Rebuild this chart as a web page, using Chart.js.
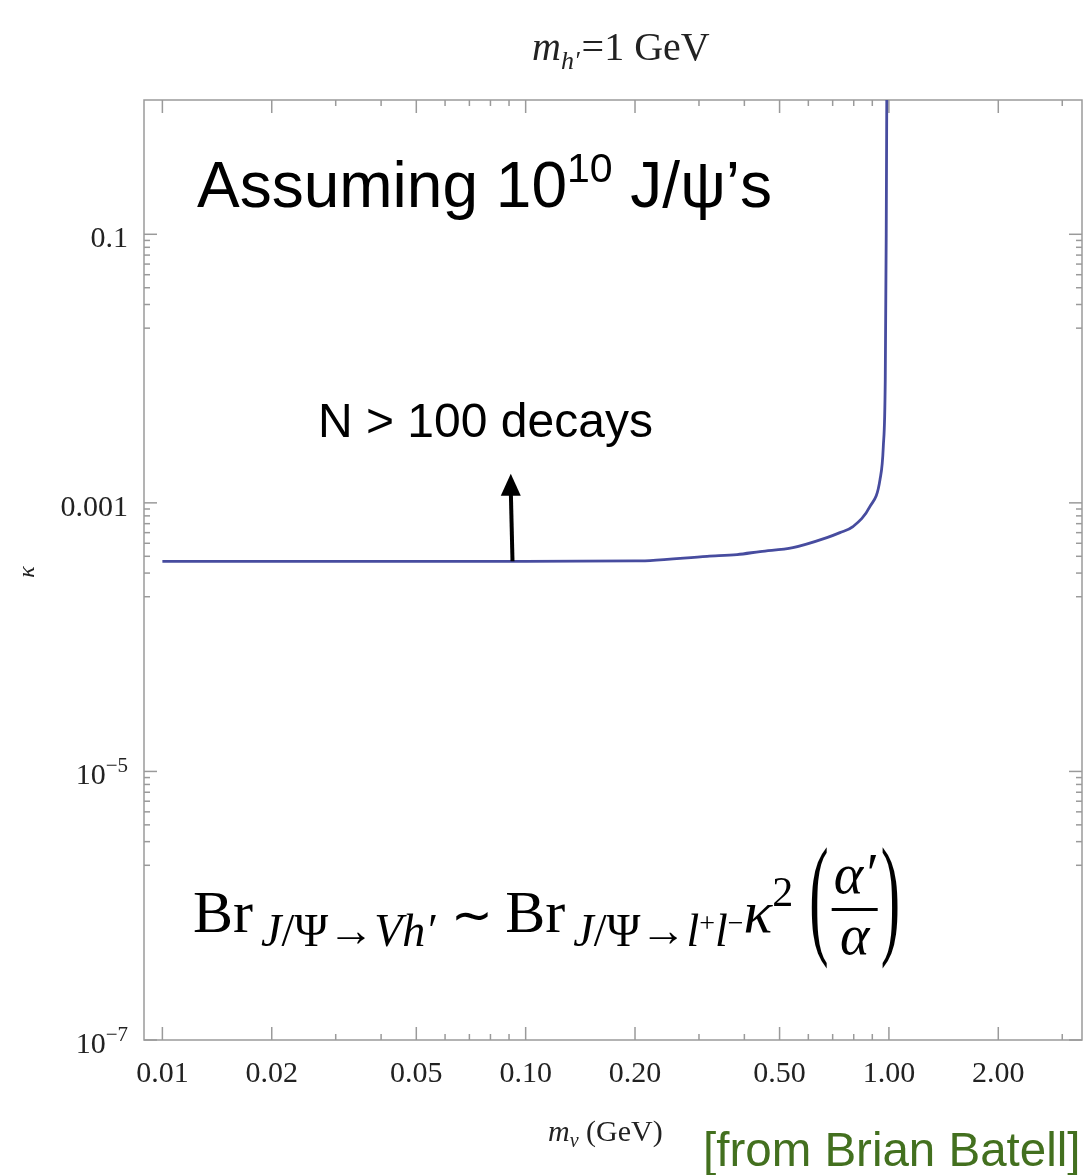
<!DOCTYPE html>
<html>
<head>
<meta charset="utf-8">
<script src="https://cdn.jsdelivr.net/npm/chart.js@4"></script>
<style>
  html, body { margin: 0; background: #fff; }
  canvas { display: block; }
</style>
</head>
<body>
<canvas id="chart" width="1085" height="1175"></canvas>
<script>
const c = document.getElementById('chart').getContext('2d');

// m_V (GeV) and kappa
const massV = [0.01, 0.02, 0.05, 0.1, 0.2, 0.22, 0.316, 0.382, 0.442, 0.544, 0.675, 0.733, 0.796, 0.887, 0.945, 0.965, 0.977, 0.983, 0.987];
const kappa = [3.67e-4, 3.67e-4, 3.67e-4, 3.67e-4, 3.7e-4, 3.72e-4, 4.0e-4, 4.12e-4, 4.34e-4, 4.64e-4, 5.51e-4, 6.0e-4, 6.65e-4, 9.4e-4, 1.49e-3, 2.63e-3, 8.3e-3, 0.1, 1.5];

const xTicks = [0.01, 0.02, 0.05, 0.1, 0.2, 0.5, 1, 2];
const xTickLabels = ['0.01', '0.02', '0.05', '0.10', '0.20', '0.50', '1.00', '2.00'];
const xMinor = [0.03, 0.04, 0.06, 0.07, 0.08, 0.09, 0.3, 0.4, 0.6, 0.7, 0.8, 0.9, 3];

const yTicks = [1e-7, 1e-5, 1e-3, 1e-1];
const yTickBase = ['10', '10', '0.001', '0.1'];
const yTickExp = ['\u22127', '\u22125', '', ''];

// arrow "N > 100 decays"
const arrowX = [0.092, 0.091];
const arrowY = [3.67e-4, 1.65e-3];

const yMin = 1e-7, yMax = 1;

const serif = '"Liberation Serif", "Times New Roman", serif';
const sans = '"Liberation Sans", Arial, sans-serif';

function runs(ctx, x, y, parts) {
  parts.forEach(p => {
    ctx.font = (p.style || '') + ' ' + p.size + 'px ' + (p.family || serif);
    ctx.fillText(p.t, x + (p.dx || 0), y + (p.dy || 0));
    x += ctx.measureText(p.t).width + (p.dx || 0);
  });
  return x;
}

const frame = {
  id: 'frame',
  beforeDatasetsDraw(chart) {
    const {ctx, chartArea: a, scales: {x, y}} = chart;
    ctx.save();
    ctx.strokeStyle = '#9a9a9a';
    ctx.lineWidth = 1.5;
    ctx.strokeRect(a.left, a.top, a.right - a.left, a.bottom - a.top);
    const seg = (x1, y1, x2, y2) => { ctx.beginPath(); ctx.moveTo(x1, y1); ctx.lineTo(x2, y2); ctx.stroke(); };
    xTicks.forEach(v => { const p = x.getPixelForValue(v); seg(p, a.bottom, p, a.bottom - 13); seg(p, a.top, p, a.top + 13); });
    xMinor.forEach(v => { const p = x.getPixelForValue(v); seg(p, a.bottom, p, a.bottom - 6); seg(p, a.top, p, a.top + 6); });
    yTicks.forEach(v => {
      const p = y.getPixelForValue(v);
      seg(a.left, p, a.left + 13, p); seg(a.right, p, a.right - 13, p);
      for (let k = 2; k <= 9; k++) {
        const mv = v * k / 10;
        if (mv <= yMin || mv >= yMax) continue;
        const q = y.getPixelForValue(mv);
        seg(a.left, q, a.left + 6, q); seg(a.right, q, a.right - 6, q);
      }
    });
    ctx.restore();
  },
  afterDraw(chart) {
    const {ctx, chartArea: a, scales: {x, y}} = chart;
    ctx.save();
    ctx.fillStyle = '#222';
    ctx.textBaseline = 'alphabetic';

    // y tick labels
    yTicks.forEach((v, i) => {
      const p = y.getPixelForValue(v);
      ctx.textAlign = 'left';
      ctx.font = '30px ' + serif;
      const wb = ctx.measureText(yTickBase[i]).width;
      ctx.font = '21px ' + serif;
      const we = yTickExp[i] ? ctx.measureText(yTickExp[i]).width : 0;
      const x0 = 128 - wb - we;
      runs(ctx, x0, p + 13, [
        {t: yTickBase[i], size: 30},
        {t: yTickExp[i], size: 21, dy: -12}
      ]);
    });

    // axis labels
    ctx.save();
    ctx.translate(34, 572);
    ctx.rotate(-Math.PI / 2);
    ctx.textAlign = 'center';
    ctx.font = 'italic 24px ' + serif;
    ctx.fillText('\u03ba', 0, 0);
    ctx.restore();

    ctx.textAlign = 'left';
    runs(ctx, 548, 1141, [
      {t: 'm', size: 30, style: 'italic'},
      {t: 'v', size: 20, style: 'italic', dy: 6},
      {t: ' (GeV)', size: 30}
    ]);

    // title
    runs(ctx, 532, 60, [
      {t: 'm', size: 40, style: 'italic'},
      {t: 'h\u2032', size: 26, style: 'italic', dy: 9},
      {t: '=1 GeV', size: 40, dx: 2}
    ]);

    // annotations
    ctx.fillStyle = '#000';
    runs(ctx, 197, 207, [
      {t: 'Assuming 10', size: 64, family: sans},
      {t: '10', size: 41, family: sans, dy: -25},
      {t: ' J/\u03c8\u2019s', size: 64, family: sans}
    ]);
    runs(ctx, 318, 437, [{t: 'N > 100 decays', size: 48, family: sans}]);

    // arrow
    const ax0 = x.getPixelForValue(arrowX[0]), ay0 = y.getPixelForValue(arrowY[0]);
    const ax1 = x.getPixelForValue(arrowX[1]), ay1 = y.getPixelForValue(arrowY[1]);
    ctx.strokeStyle = '#000';
    ctx.lineWidth = 4;
    ctx.beginPath(); ctx.moveTo(ax0, ay0); ctx.lineTo(ax1, ay1 + 16); ctx.stroke();
    ctx.beginPath();
    ctx.moveTo(ax1, ay1); ctx.lineTo(ax1 - 10, ay1 + 22); ctx.lineTo(ax1 + 10, ay1 + 22); ctx.closePath(); ctx.fill();

    // formula
    let fx = runs(ctx, 193, 932, [
      {t: 'Br', size: 60},
      {t: 'J', size: 46, style: 'italic', dy: 14, dx: 8},
      {t: '/\u03a8\u2192', size: 46, dy: 14},
      {t: 'Vh\u2032', size: 46, style: 'italic', dy: 14}
    ]);
    fx = runs(ctx, fx + 16, 932, [{t: '\u223c', size: 50}]);
    fx = runs(ctx, fx + 12, 932, [
      {t: 'Br', size: 60},
      {t: 'J', size: 46, style: 'italic', dy: 14, dx: 8},
      {t: '/\u03a8\u2192', size: 46, dy: 14},
      {t: 'l', size: 46, style: 'italic', dy: 14},
      {t: '+', size: 28, dy: 0},
      {t: 'l', size: 46, style: 'italic', dy: 14},
      {t: '\u2212', size: 28, dy: 0},
      {t: '\u03ba', size: 60, style: 'italic'},
      {t: '2', size: 42, dy: -26}
    ]);
    fx += 16;
    ctx.save();
    ctx.translate(fx, 905);
    ctx.scale(1, 2.3);
    ctx.font = '58px ' + serif;
    ctx.textBaseline = 'middle';
    ctx.fillText('(', 0, 0);
    const pw = ctx.measureText('(').width;
    ctx.restore();
    const cx = fx + pw + 26;
    ctx.textAlign = 'center';
    ctx.font = 'italic 56px ' + serif;
    ctx.fillText('\u03b1\u2032', cx, 893);
    ctx.fillText('\u03b1', cx, 954);
    ctx.fillRect(cx - 23, 908, 46, 3);
    ctx.textAlign = 'left';
    ctx.save();
    ctx.translate(cx + 26, 905);
    ctx.scale(1, 2.3);
    ctx.font = '58px ' + serif;
    ctx.textBaseline = 'middle';
    ctx.fillText(')', 0, 0);
    ctx.restore();

    // credit
    ctx.fillStyle = '#43701f';
    runs(ctx, 703, 1166, [{t: '[from Brian Batell]', size: 47.5, family: sans}]);
    ctx.restore();
  }
};

const config = {
  type: 'line',
  data: {
    labels: massV,
    datasets: [{
      data: massV.map((m, i) => ({x: m, y: kappa[i]})),
      borderColor: '#474c9f',
      borderWidth: 2.8,
      pointRadius: 0,
      fill: false,
      cubicInterpolationMode: 'monotone'
    }]
  },
  options: {
    responsive: false,
    animation: false,
    devicePixelRatio: 1,
    layout: { padding: { top: 100, right: 3, bottom: 0, left: 0 } },
    plugins: { legend: { display: false }, title: { display: false }, tooltip: { enabled: false } },
    scales: {
      x: {
        type: 'logarithmic',
        min: 0.0089,
        max: 3.4,
        grid: { display: false, drawTicks: false },
        border: { display: false },
        ticks: {
          autoSkip: false, maxRotation: 0, padding: 16, color: '#222',
          font: { family: serif, size: 30 },
          callback: (v, i) => xTickLabels[i]
        },
        afterBuildTicks: s => { s.ticks = xTicks.map(v => ({value: v})); },
        afterFit: s => { s.height = 135; }
      },
      y: {
        type: 'logarithmic',
        min: yMin,
        max: yMax,
        grid: { display: false, drawTicks: false },
        border: { display: false },
        ticks: { display: false },
        afterBuildTicks: s => { s.ticks = yTicks.map(v => ({value: v})); },
        afterFit: s => { s.width = 144; }
      }
    }
  },
  plugins: [frame]
};

const chart = new Chart(c, config);
</script>
</body>
</html>
